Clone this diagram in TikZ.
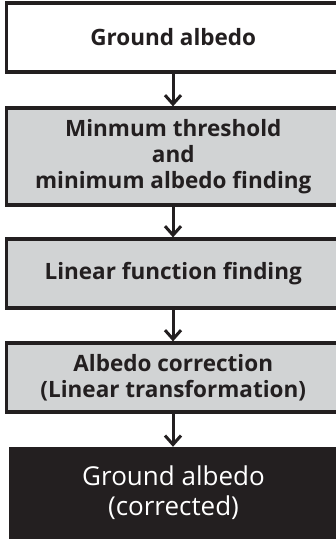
\documentclass[tikz,border=0pt]{standalone}
\usepackage{fontspec}
\setmainfont{Open Sans}
\usetikzlibrary{arrows.meta}
\definecolor{boxgray}{HTML}{D1D3D4}
\definecolor{boxblack}{HTML}{231F20}
\tikzset{
  flowbox/.style={draw=boxblack, line width=3.2pt, rectangle, inner sep=0pt,
    minimum width=333.5pt, align=center, text=boxblack,
    font=\fontsize{22.5}{26}\selectfont\bfseries},
  graybox/.style={flowbox, fill=boxgray},
  whitebox/.style={flowbox, fill=white},
  darkbox/.style={rectangle, fill=boxblack, inner sep=0pt, minimum width=329pt,
    align=center, text=white, font=\fontsize{26}{30}\selectfont},
  flowarrow/.style={draw=boxblack, line width=3pt,
    -{Straight Barb[length=9pt,width=16pt,line width=3pt]}}
}
\begin{document}
\begin{tikzpicture}[x=1pt,y=1pt]
\useasboundingbox (0,0) rectangle (336,-539);
\clip (0,0) rectangle (336,-539);
\node[whitebox, minimum height=69pt] (b1) at (173.25,-37.5) {Ground albedo};
\node[graybox, minimum height=97pt] (b2) at (173.25,-156.5) {Minmum threshold\\and\\minimum albedo finding};
\node[graybox, minimum height=69pt] (b3) at (173.25,-273.5) {Linear function finding};
\node[graybox, minimum height=69pt] (b4) at (173.25,-377.5) {Albedo correction\\(Linear transformation)};
\node[darkbox, minimum height=92pt] (b5) at (173.5,-493) {Ground albedo\\(corrected)};
\draw[flowarrow] (b1.south -| 173,0) -- (b2.north -| 173,0);
\draw[flowarrow] (b2.south -| 173,0) -- (b3.north -| 173,0);
\draw[flowarrow] (b3.south -| 173,0) -- (b4.north -| 173,0);
\draw[flowarrow] (b4.south -| 173,0) -- (b5.north -| 173,0);
\end{tikzpicture}
\end{document}
